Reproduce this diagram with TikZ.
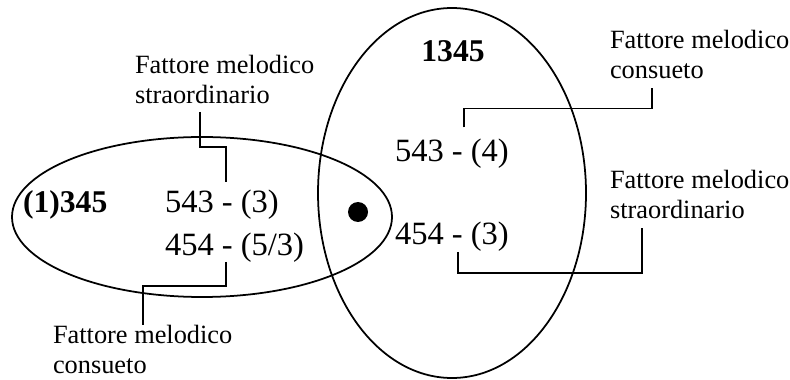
\documentclass[tikz,border=0pt]{standalone}
\usepackage{fontspec}
\setmainfont{Liberation Serif}
\usetikzlibrary{shapes.geometric}

\begin{document}
\begin{tikzpicture}[
  setshape/.style={draw,ellipse,line width=1pt,inner sep=0pt},
  setname/.style={font=\fontsize{18}{20}\selectfont\bfseries,inner sep=0pt,outer sep=0pt,anchor=base west},
  nums/.style={font=\fontsize{18.5}{20}\selectfont,inner sep=0pt,outer sep=0pt,anchor=base west},
  lbl/.style={font=\fontsize{15}{17}\selectfont,align=left,inner sep=0pt,outer sep=0pt,anchor=north west},
  conn/.style={line width=1pt}]
\useasboundingbox (0,0) rectangle (15.8,-7.6);
% the two sets
\node[setshape,minimum width=7.6cm,minimum height=3.2cm] (setL) at (4.04,-4.34) {};
\node[setshape,minimum width=5.36cm,minimum height=7.4cm] (setR) at (9.04,-3.86) {};
\node[circle,fill,minimum size=0.4cm,inner sep=0pt] (dot) at (7.16,-4.24) {};
\node[setname] (nameL) at (0.46,-4.25) {(1)345};
\node[setname,anchor=base] (nameR) at (9.06,-1.24) {1345};
% intervals
\node[nums] (nA) at (3.30,-4.24) {543 - (3)};
\node[nums] (nB) at (3.30,-5.10) {454 - (5/3)};
\node[nums] (nC) at (7.90,-3.24) {543 - (4)};
\node[nums] (nD) at (7.90,-4.90) {454 - (3)};
% labels
\node[lbl] (lsL) at (2.70,-1.11) {Fattore melodico\\straordinario};
\node[lbl] (lcL) at (1.06,-6.50) {Fattore melodico\\consueto};
\node[lbl] (lcR) at (12.20,-0.60) {Fattore melodico\\consueto};
\node[lbl] (lsR) at (12.20,-3.40) {Fattore melodico\\straordinario};
% connectors
\draw[conn] ([xshift=1.3cm,yshift=-0.16cm]lsL.south west) -- ++(0,-0.7) -| ([xshift=1.22cm,yshift=0.14cm]nA.north west);
\draw[conn] ([xshift=1.22cm]nB.south west) -- ++(0,-0.48) -| ([xshift=1.8cm]lcL.north west);
\draw[conn] ([xshift=1.38cm,yshift=0.24cm]nC.north west) -- ++(0,0.38) -| ([xshift=0.84cm,yshift=-0.2cm]lcR.south west);
\draw[conn] ([xshift=1.26cm]nD.south west) -- ++(0,-0.42) -| ([xshift=0.64cm,yshift=-0.2cm]lsR.south west);
\end{tikzpicture}
\end{document}
